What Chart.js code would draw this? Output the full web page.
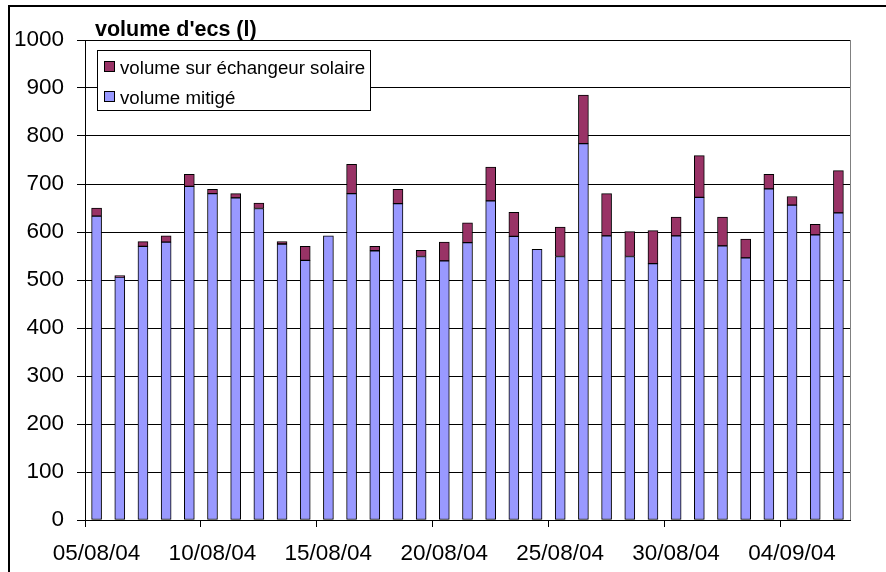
<!DOCTYPE html>
<html>
<head>
<meta charset="utf-8">
<title>volume d'ecs</title>
<script src="https://cdn.jsdelivr.net/npm/chart.js@4.4.1/dist/chart.umd.min.js"></script>
<style>
  html, body { margin: 0; padding: 0; background: #fff; }
  #wrap { width: 886px; height: 572px; }
</style>
</head>
<body>
<div id="wrap"><canvas id="ecsChart" width="886" height="572"></canvas></div>
<script>
// daily hot water volumes, 05/08/04 -> 06/09/04
const chartTitle = "volume d'ecs (l)";
const dates = [
  '05/08/04', '06/08/04', '07/08/04', '08/08/04', '09/08/04', '10/08/04', '11/08/04',
  '12/08/04', '13/08/04', '14/08/04', '15/08/04', '16/08/04', '17/08/04', '18/08/04',
  '19/08/04', '20/08/04', '21/08/04', '22/08/04', '23/08/04', '24/08/04', '25/08/04',
  '26/08/04', '27/08/04', '28/08/04', '29/08/04', '30/08/04', '31/08/04', '01/09/04',
  '02/09/04', '03/09/04', '04/09/04', '05/09/04', '06/09/04'
];
const volMitige = [
  633, 506, 570, 579, 695, 680, 671, 649, 575, 541, 592,
  680, 561, 659, 549, 540, 578, 665, 591, 564, 549, 784,
  592, 549, 534, 592, 672, 571, 546, 690, 656, 594, 640
];
const volSolaire = [
  17, 3, 10, 13, 25, 9, 9, 11, 5, 29, null,
  61, 9, 30, 13, 39, 41, 70, 50, null, 61, 101,
  88, 52, 69, 39, 87, 60, 39, 30, 18, 22, 88
];
const labelTicks = [0, 5, 10, 15, 20, 25, 30];

const FONT = '"Liberation Sans", Arial, sans-serif';

// bars sit in the middle of each day slot on a linear axis
const toPoints = arr => arr.map((v, i) => ({ x: i + 0.5, y: v }));

// outer frame, title, boxed legend and the right edge of the plot area
const decorations = {
  id: 'decorations',
  afterDraw(chart) {
    const { ctx, chartArea: a } = chart;
    ctx.save();

    ctx.strokeStyle = '#808080';
    ctx.lineWidth = 1;
    ctx.beginPath();
    ctx.moveTo(a.right + 0.5, a.top);
    ctx.lineTo(a.right + 0.5, a.bottom);
    ctx.stroke();

    ctx.strokeStyle = '#000';
    ctx.lineWidth = 2;
    ctx.strokeRect(9, 6, 1000, 1000);

    ctx.fillStyle = '#000';
    ctx.font = 'bold 21.5px ' + FONT;
    ctx.textBaseline = 'alphabetic';
    ctx.fillText(chartTitle, 95, 36);

    // legend box
    ctx.fillStyle = '#fff';
    ctx.fillRect(97, 50, 273, 60);
    ctx.strokeStyle = '#000';
    ctx.lineWidth = 1;
    ctx.strokeRect(97.5, 50.5, 273, 60);

    const items = chart.data.datasets.slice().reverse();
    ctx.font = '18.7px ' + FONT;
    items.forEach((ds, k) => {
      const y = 61 + k * 30;
      ctx.fillStyle = ds.backgroundColor;
      ctx.fillRect(104, y, 11, 11);
      ctx.strokeStyle = '#000';
      ctx.strokeRect(104.5, y + 0.5, 10, 10);
      ctx.fillStyle = '#000';
      ctx.fillText(ds.label, 120, y + 12.5);
    });

    ctx.restore();
  }
};

new Chart(document.getElementById('ecsChart'), {
  type: 'bar',
  data: {
    datasets: [
      {
        label: 'volume mitigé',
        data: toPoints(volMitige),
        backgroundColor: '#9999ff',
        borderColor: '#000',
        borderWidth: 1,
        borderSkipped: false,
        barThickness: 10
      },
      {
        label: 'volume sur échangeur solaire',
        data: toPoints(volSolaire),
        backgroundColor: '#993366',
        borderColor: '#000',
        borderWidth: 1,
        borderSkipped: false,
        barThickness: 10
      }
    ]
  },
  options: {
    responsive: false,
    animation: false,
    layout: { padding: { top: 40, right: 36, bottom: 0, left: 0 } },
    plugins: {
      legend: { display: false },
      tooltip: { enabled: false }
    },
    scales: {
      x: {
        type: 'linear',
        stacked: true,
        offset: false,
        min: 0,
        max: dates.length,
        afterBuildTicks: scale => {
          scale.ticks = labelTicks.map(v => ({ value: v }));
        },
        afterFit: scale => { scale.height = 52; },
        grid: { offset: false, drawOnChartArea: false, drawTicks: true, tickLength: 7, color: '#000' },
        border: { color: '#000', width: 1 },
        ticks: {
          autoSkip: false,
          maxRotation: 0,
          padding: 13,
          labelOffset: 11.5,
          color: '#000',
          font: { family: FONT, size: 22.5 },
          callback: v => dates[v]
        }
      },
      y: {
        stacked: true,
        min: 0,
        max: 1000,
        afterFit: scale => { scale.width = 85; },
        grid: { color: '#000', tickLength: 8 },
        border: { color: '#000', width: 1 },
        ticks: {
          stepSize: 100,
          padding: 13,
          color: '#000',
          font: { family: FONT, size: 22.5 },
          callback: v => String(v)
        }
      }
    }
  },
  plugins: [decorations]
});
</script>
</body>
</html>
